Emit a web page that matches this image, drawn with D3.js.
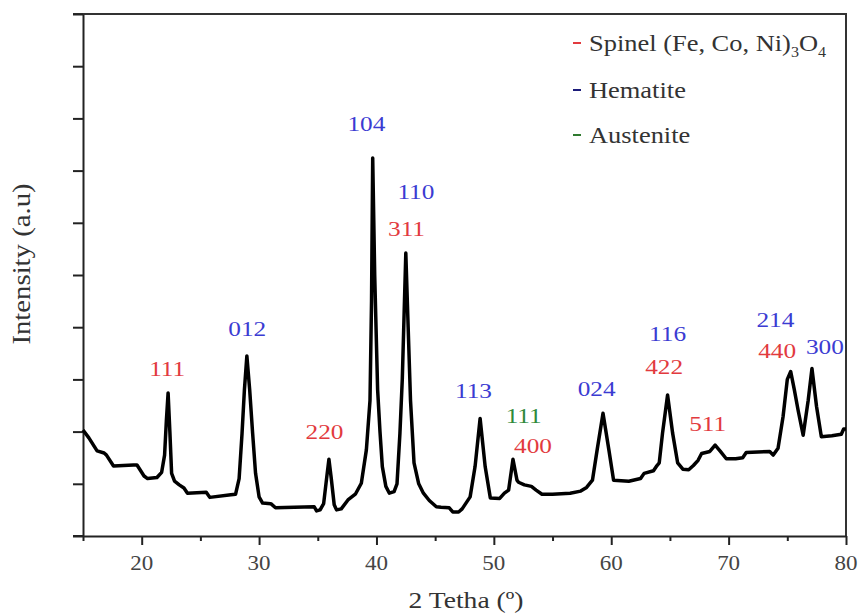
<!DOCTYPE html>
<html>
<head>
<meta charset="utf-8">
<script src="https://cdn.jsdelivr.net/npm/d3@7"></script>
<style>
  html, body { margin: 0; padding: 0; background: #fff; }
  svg { display: block; font-family: "Liberation Serif", "DejaVu Serif", serif; }
</style>
</head>
<body>
<svg id="chart" width="859" height="614"></svg>
<script>
// ---- Data ----
const twoTheta = [
  15.0, 15.5, 16.2, 16.8, 17.0, 17.6, 19.3, 19.6, 20.2, 20.5, 21.3, 21.7, 21.95, 22.1, 22.25, 22.4, 22.55, 22.8, 23.2, 23.6, 23.9,
  25.5, 25.8, 27.6, 28.0, 28.3, 28.55, 28.75, 28.96, 29.2, 29.45, 29.7, 30.0, 30.3, 31.0, 31.4, 33.0, 34.7, 34.9, 35.2,
  35.5, 35.75, 35.95, 36.15, 36.4, 36.6, 37.0, 37.57, 38.2, 38.71, 39.14, 39.45, 39.58, 39.68, 39.85, 40.1, 40.3, 40.5, 40.8,
  41.1, 41.5, 41.75, 42.0, 42.2, 42.5, 42.7, 42.9, 43.2, 43.6, 44.0, 44.5, 45.1, 45.5, 46.2, 46.5, 47.0, 47.3, 47.98,
  48.4, 48.83, 49.26, 49.7, 50.5, 50.9, 51.26, 51.63, 51.97, 52.1, 52.6, 53.2, 53.6, 54.1, 55.0, 56.5, 57.4, 57.9, 58.4,
  58.8, 59.3, 59.8, 60.2, 61.5, 62.5, 62.8, 63.6, 63.9, 64.09, 64.37, 64.8, 65.23, 65.66, 66.1, 66.6, 67.0, 67.4, 67.7,
  68.4, 68.85, 69.3, 69.8, 70.6, 71.2, 71.5, 72.5, 73.5, 73.8, 74.21, 74.64, 75.0, 75.29, 75.6, 75.92, 76.35, 76.78, 77.1,
  77.49, 77.9, 78.8, 79.6, 79.8, 80.0
];
const intensity = [
  2.03, 1.88, 1.63, 1.59, 1.55, 1.34, 1.36, 1.36, 1.15, 1.10, 1.12, 1.22, 1.55, 2.20, 2.74, 2.00, 1.20, 1.05, 0.98, 0.92, 0.82,
  0.84, 0.74, 0.79, 0.80, 1.10, 1.97, 2.80, 3.45, 2.80, 1.97, 1.20, 0.75, 0.63, 0.62, 0.54, 0.55, 0.56, 0.48, 0.50,
  0.62, 1.10, 1.47, 1.10, 0.60, 0.50, 0.52, 0.69, 0.80, 1.01, 1.65, 2.60, 4.50, 7.24, 5.00, 2.80, 2.00, 1.33, 0.95,
  0.82, 0.85, 1.00, 1.97, 3.00, 5.42, 4.00, 2.60, 1.40, 1.00, 0.82, 0.68, 0.56, 0.55, 0.54, 0.46, 0.46, 0.52, 0.75,
  1.33, 2.25, 1.33, 0.73, 0.72, 0.82, 0.88, 1.47, 1.07, 1.03, 0.98, 0.95, 0.88, 0.80, 0.80, 0.82, 0.86, 0.93, 1.07,
  1.65, 2.35, 1.65, 1.07, 1.05, 1.10, 1.20, 1.25, 1.35, 1.40, 1.97, 2.70, 1.97, 1.40, 1.28, 1.27, 1.35, 1.45, 1.58,
  1.62, 1.74, 1.62, 1.48, 1.48, 1.50, 1.60, 1.61, 1.62, 1.55, 1.68, 2.29, 3.00, 3.15, 2.80, 2.41, 1.93, 2.60, 3.21,
  2.48, 1.90, 1.92, 1.95, 2.05, 2.05
];

// Peak annotations (Miller indices)
const peakLabels = ["111", "012", "220", "104", "110", "311", "113", "111", "400", "024", "116", "422", "511", "214", "440", "300"];
const peakLabelX = [22.17, 28.99, 35.57, 39.14, 43.36, 42.56, 48.26, 52.54, 53.34, 58.76, 64.8, 64.51, 68.22, 73.98, 74.13, 78.2];
const peakLabelY = [3.21, 3.98, 2.0, 7.91, 6.6, 5.89, 2.80, 2.32, 1.74, 2.83, 3.88, 3.26, 2.16, 4.15, 3.56, 3.63];
const peakPhase  = ["Spinel", "Hematite", "Spinel", "Hematite", "Hematite", "Spinel", "Hematite", "Austenite", "Spinel",
                    "Hematite", "Hematite", "Spinel", "Spinel", "Hematite", "Spinel", "Hematite"];

const phases = ["Spinel", "Hematite", "Austenite"];
const phaseLabelColors = ["#e23a3e", "#3b3bd2", "#2f8a3a"];
const phaseDashColors = ["#e23a3e", "#1c1c7a", "#2f7a2f"];

const xTicks = [15, 20, 25, 30, 35, 40, 45, 50, 55, 60, 65, 70, 75, 80];
const xTickLabels = ["", "20", "", "30", "", "40", "", "50", "", "60", "", "70", "", "80"];
const yTicks = [0, 1, 2, 3, 4, 5, 6, 7, 8, 9, 10];

// ---- Layout ----
const svg = d3.select("#chart");
const mL = 83, mR = 846, mT = 14, mB = 536;
const SX = 1.15; // horizontal text stretch seen in the reference

const x = d3.scaleLinear().domain([15, 80]).range([mL, mR]);
const y = d3.scaleLinear().domain([0, 10]).range([mB, mT]);
const labelColor = d3.scaleOrdinal().domain(phases).range(phaseLabelColors);

// Frame: top and right
svg.append("line").attr("x1", mL - 10).attr("x2", mR + 1).attr("y1", mT).attr("y2", mT)
  .attr("stroke", "#333").attr("stroke-width", 2);
svg.append("line").attr("x1", mR).attr("x2", mR).attr("y1", mT).attr("y2", mB)
  .attr("stroke", "#333").attr("stroke-width", 2);

// Y axis (ticks only, no labels)
const yAxis = svg.append("g").attr("transform", `translate(${mL},0)`)
  .call(d3.axisLeft(y).tickValues(yTicks).tickFormat("").tickSize(10).tickSizeOuter(0));
yAxis.select(".domain").attr("stroke", "#222").attr("stroke-width", 2);
yAxis.selectAll(".tick line").attr("stroke", "#222").attr("stroke-width", 2);

// X axis
const xAxis = svg.append("g").attr("transform", `translate(0,${mB})`)
  .call(d3.axisBottom(x).tickValues(xTicks).tickFormat("").tickSize(9).tickSizeOuter(0));
xAxis.select(".domain").attr("stroke", "#222").attr("stroke-width", 2);
xAxis.selectAll(".tick line").attr("stroke", "#222").attr("stroke-width", 2)
  .attr("y2", (d, i) => xTickLabels[i] ? 9 : 5);
svg.append("line").attr("x1", mL - 10).attr("x2", mL).attr("y1", mB).attr("y2", mB)
  .attr("stroke", "#222").attr("stroke-width", 2);

xTicks.forEach((t, i) => {
  if (!xTickLabels[i]) return;
  svg.append("text")
    .attr("transform", `translate(${x(t)},563) scale(${SX},1)`)
    .attr("text-anchor", "middle").attr("dy", "0.35em")
    .attr("font-size", 20).attr("fill", "#444")
    .text(xTickLabels[i]);
});

// Axis titles
svg.append("text")
  .attr("transform", `translate(466,600) scale(${SX},1)`)
  .attr("text-anchor", "middle").attr("dy", "0.35em")
  .attr("font-size", 24).attr("fill", "#333")
  .text("2 Tetha (º)");
svg.append("text")
  .attr("transform", `translate(21,264) rotate(-90) scale(${SX},1)`)
  .attr("text-anchor", "middle").attr("dy", "0.35em")
  .attr("font-size", 25).attr("fill", "#333")
  .text("Intensity (a.u)");

// Curve
const pts = twoTheta.map((t, i) => [t, intensity[i]]);
svg.append("path")
  .datum(pts)
  .attr("fill", "none").attr("stroke", "#000").attr("stroke-width", 3.5)
  .attr("stroke-linejoin", "round")
  .attr("d", d3.line().x(d => x(d[0])).y(d => y(d[1])));

// Peak labels
peakLabels.forEach((lab, i) => {
  svg.append("text")
    .attr("transform", `translate(${x(peakLabelX[i])},${y(peakLabelY[i])}) scale(${SX},1)`)
    .attr("text-anchor", "middle").attr("dy", "0.35em")
    .attr("font-size", 22)
    .attr("fill", labelColor(peakPhase[i]))
    .text(lab);
});

// Legend
const legendY = [43, 90, 135];
phases.forEach((p, i) => {
  svg.append("line").attr("x1", 573).attr("x2", 581).attr("y1", legendY[i]).attr("y2", legendY[i])
    .attr("stroke", phaseDashColors[i]).attr("stroke-width", 2);
  const t = svg.append("text")
    .attr("transform", `translate(589,${legendY[i]}) scale(${SX},1)`)
    .attr("dy", "0.35em").attr("font-size", 23).attr("fill", "#333");
  if (p === "Spinel") {
    t.append("tspan").text("Spinel (Fe, Co, Ni)");
    t.append("tspan").attr("font-size", 14).attr("dy", 6).text("3");
    t.append("tspan").attr("dy", -6).text("O");
    t.append("tspan").attr("font-size", 14).attr("dy", 6).text("4");
  } else {
    t.text(p);
  }
});
</script>
</body>
</html>
